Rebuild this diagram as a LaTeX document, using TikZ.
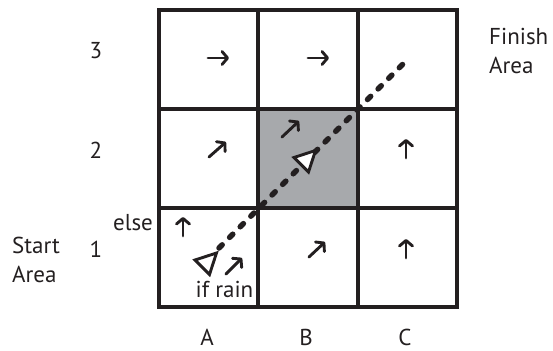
\documentclass[tikz,border=0pt]{standalone}
\usepackage{fontspec}
\setmainfont{PT Sans}
\usetikzlibrary{arrows.meta}
\definecolor{ink}{HTML}{231F20}
\definecolor{cellgray}{HTML}{A7A9AC}
\begin{document}
\begin{tikzpicture}[x=1pt,y=-1pt,
  cell/.style={draw=ink, line width=4pt, minimum width=99.5pt, minimum height=99pt, inner sep=0pt, outer sep=0pt},
  lbl/.style={text=ink, font=\fontsize{23}{29.5}\selectfont, inner sep=0pt},
  cellarrow/.style={draw=ink, line width=2.9pt, line cap=round, -{Straight Barb[length=5.5pt,width=13pt,round]}},
  route/.style={draw=ink, line width=5.5pt, line cap=round, dash pattern=on 4.5pt off 10.5pt},
  robot/.style={draw=ink, line width=2.9pt, fill=white, line join=miter}]
\useasboundingbox (0,0) rectangle (553,350);
% grid cells
\node[cell, fill=cellgray] (B2) at (308,158.5) {};
\node[cell] (A3) at (208.5,59.5) {};
\node[cell] (B3) at (308,59.5) {};
\node[cell] (C3) at (407.5,59.5) {};
\node[cell] (A2) at (208.5,158.5) {};
\node[cell] (C2) at (407.5,158.5) {};
\node[cell] (A1) at (208.5,257.5) {};
\node[cell] (B1) at (308,257.5) {};
\node[cell] (C1) at (407.5,257.5) {};
% policy arrows
\draw[cellarrow] (208,58) -- (229,58);
\draw[cellarrow] (308,58) -- (329,58);
\draw[cellarrow] (209,157) -- (226,142);
\draw[cellarrow] (282,137) -- (299,121);
\draw[cellarrow] (406,158) -- (406,139);
\draw[cellarrow] (183,236) -- (183,217);
\draw[cellarrow] (226,274) -- (242,258);
\draw[cellarrow] (309,257) -- (325,242);
\draw[cellarrow] (406,258) -- (406,239);
% route
\coordinate (rs) at (219,248);
\coordinate (re) at (405,62);
\draw[route] (rs) -- (re);
% robot markers
\draw[robot] (195,260) -- ++(21.5,-7) -- ++(-7,21.5) -- cycle;
\draw[robot] (294,157.5) -- ++(21.5,-7) -- ++(-7,21.5) -- cycle;
% labels
\node[lbl, anchor=west, align=left] (start) at (12,260) {Start\\Area};
\node[lbl, anchor=west, align=left] (finish) at (489,51) {Finish\\Area};
\node[lbl] (r1) at (96,249) {1};
\node[lbl] (r2) at (96,150) {2};
\node[lbl] (r3) at (96,51) {3};
\node[lbl] (cA) at (207,337) {A};
\node[lbl] (cB) at (306,337) {B};
\node[lbl] (cC) at (405,337) {C};
\node[lbl] (else) at (133,223) {else};
\node[lbl] (rain) at (224.5,289) {if rain};
\end{tikzpicture}
\end{document}
